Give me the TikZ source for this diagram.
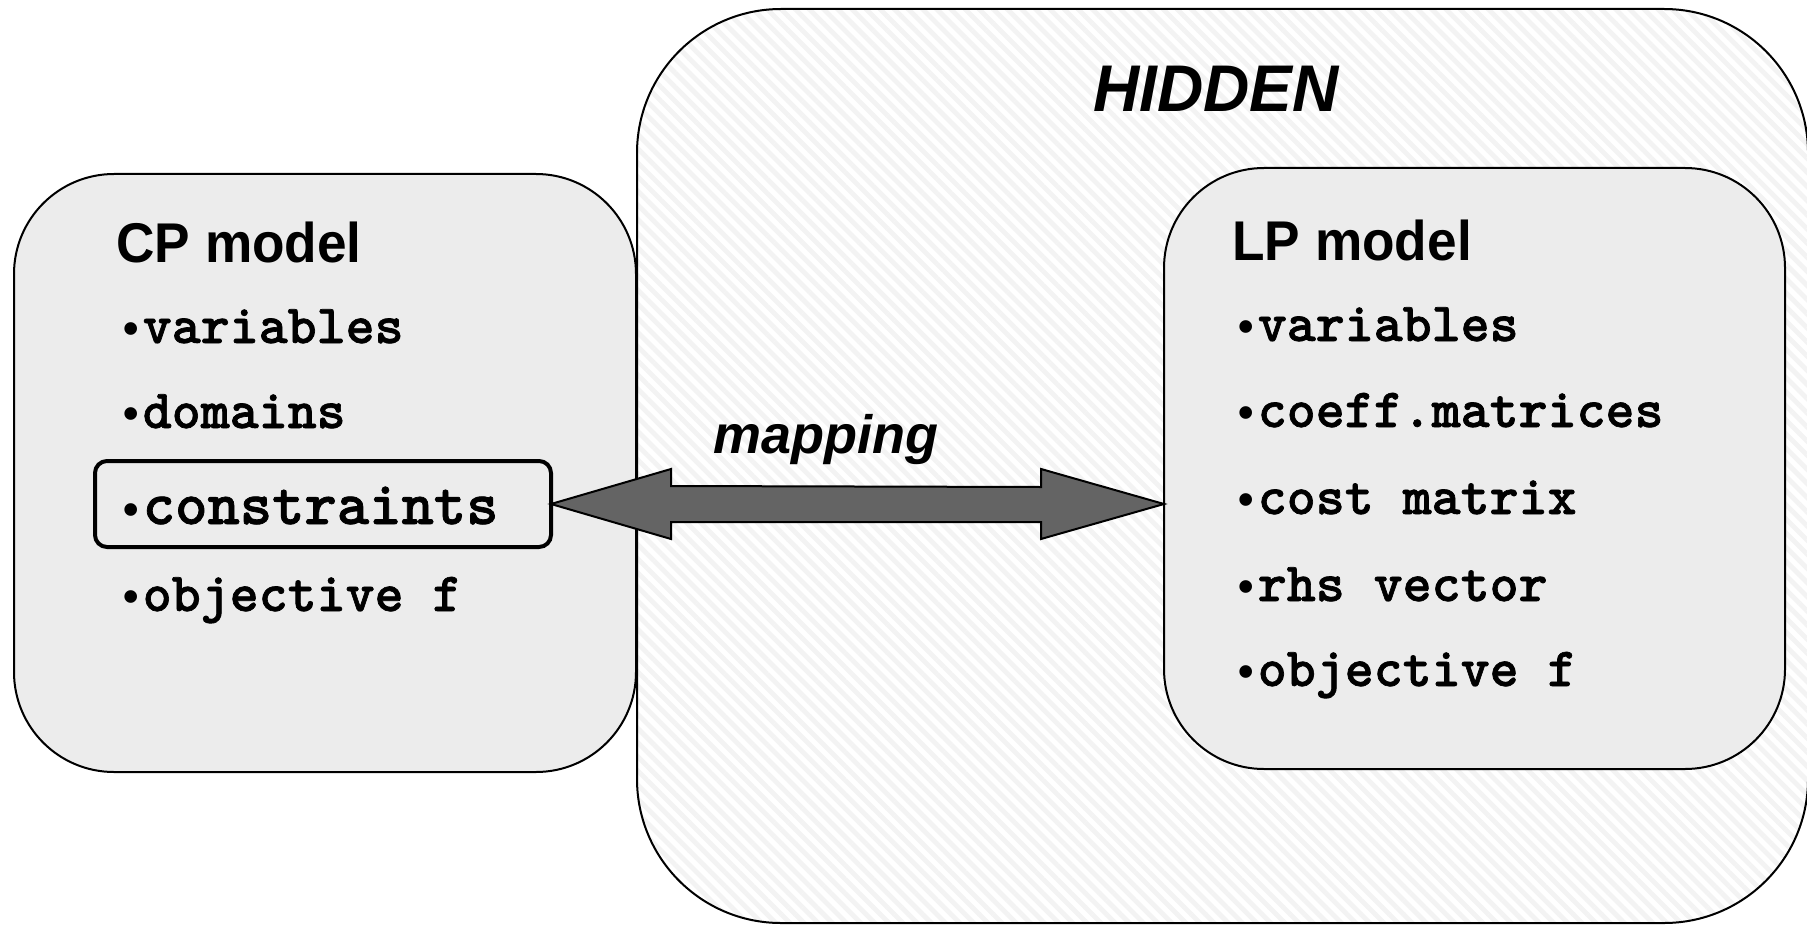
\documentclass[tikz,border=0pt]{standalone}
\usepackage{fontspec}
\usepackage{graphicx}
\newfontfamily\hsans{Liberation Sans}
\newfontfamily\cmono{lmmonolt10-bold}[Extension=.otf, FakeBold=1.2]
\usetikzlibrary{patterns.meta,calc}
\definecolor{boxfill}{HTML}{ECECEC}
\definecolor{arrowfill}{HTML}{646464}
\definecolor{hatchcol}{HTML}{F3F3F3}
\newcommand\itm[1]{{\hsans\bfseries\fontsize{22}{22}\selectfont •}\kern2pt{\cmono #1}}
\begin{document}
\begin{tikzpicture}[x=0.5pt,y=-0.5pt,
  panel/.style={draw=black, line width=1pt, fill=boxfill, rounded corners=50pt, inner sep=0pt, outer sep=0pt},
  item/.style={anchor=base west, inner sep=0pt, font=\fontsize{27.6}{27.6}\selectfont},
  bigitem/.style={anchor=base west, inner sep=0pt, font=\fontsize{30.8}{30.8}\selectfont},
  head/.style={anchor=base west, inner sep=0pt, font=\hsans\bfseries\fontsize{28}{28}\selectfont},
  ital/.style={anchor=base west, inner sep=0pt, font=\hsans\bfseries\itshape},
]
\useasboundingbox (0,0) rectangle (1807,925);
\node[draw=black, line width=1pt, rounded corners=72pt, minimum width=585.5pt, minimum height=457pt,
  inner sep=0pt, outer sep=0pt, preaction={fill=white},
  pattern={Lines[angle=-45,distance=5pt,line width=2.4pt]}, pattern color=hatchcol]
  (hidden) at (1222.5,466) {};
\node[panel, minimum width=311pt, minimum height=299pt] (cp) at (325,473) {};
\node[panel, minimum width=310.5pt, minimum height=300.5pt] (lp) at (1474.5,468.5) {};
\node[draw=black, line width=2pt, rounded corners=6pt, minimum width=228pt, minimum height=43pt,
  inner sep=0pt, outer sep=0pt] (cons) at (323,504) {};

\node[ital, font=\hsans\bfseries\itshape\fontsize{33}{33}\selectfont] (hid) at (1093,112) {\scalebox{0.97}[1]{HIDDEN}};
\node[ital, font=\hsans\bfseries\itshape\fontsize{27}{27}\selectfont] (map) at (713,453) {mapping};

\node[head] (cph) at (116,263) {\scalebox{0.95}[1]{CP model}};
\node[head] (lph) at (1232,260) {\scalebox{0.95}[1]{LP model}};

\node[item] (c1) at (123,343) {\itm{variables}};
\node[item] (c2) at (123,428) {\itm{domains}};
\node[bigitem] (c3) at (123,524) {\itm{constraints}};
\node[item] (c4) at (123,611) {\itm{objective f}};

\node[item] (l1) at (1238,341) {\itm{variables}};
\node[item] (l2) at (1238,427) {\itm{coeff.matrices}};
\node[item] (l3) at (1238,514) {\itm{cost matrix}};
\node[item] (l4) at (1238,601) {\itm{rhs vector}};
\node[item] (l5) at (1238,686) {\itm{objective f}};

\path (cons.east) coordinate (aL) (lp.west |- cons.east) coordinate (aR);
\draw[line width=1pt, fill=arrowfill, line join=miter]
  (aL) -- ++(120,-35) -- ++(0,17) -- ($(aR)+(-123,-17)$) -- ++(0,-18) -- (aR)
  -- ++(-123,35) -- ++(0,-17) -- ($(aL)+(120,18)$) -- ++(0,17) -- cycle;
\end{tikzpicture}
\end{document}
